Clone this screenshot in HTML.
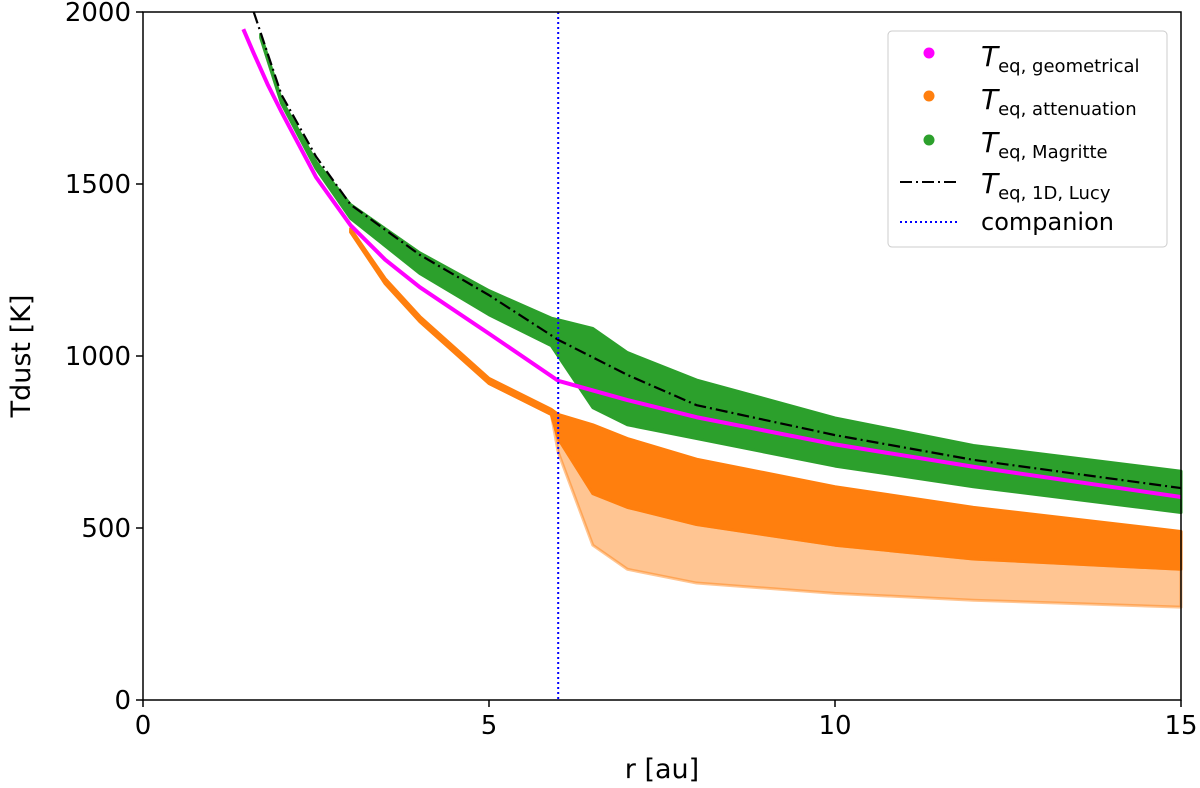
<!DOCTYPE html>
<html><head><meta charset="utf-8"><style>
body{margin:0;background:#fff;width:1200px;height:788px;overflow:hidden}
svg{display:block;font-family:"DejaVu Sans","Liberation Sans",sans-serif}
</style></head><body>
<svg id="chart" width="1200" height="788">
<g id="marks"></g>
<g id="axes"></g>
<text x="662" y="778" text-anchor="middle" font-size="27">r [au]</text>
<text transform="translate(30,356) rotate(-90)" text-anchor="middle" font-size="27">Tdust [K]</text>
<g>
<rect x="888" y="31" width="279" height="216" rx="4" fill="#fff" fill-opacity="0.85" stroke="#ccc"/>
<circle cx="929" cy="53" r="5.5" fill="#ff00ff"/>
<text x="981" y="66" font-size="28" font-style="italic">T<tspan font-size="18" font-style="normal" dy="6">eq, geometrical</tspan></text>
<circle cx="929" cy="96" r="5.5" fill="#ff7f0e"/>
<text x="981" y="109" font-size="28" font-style="italic">T<tspan font-size="18" font-style="normal" dy="6">eq, attenuation</tspan></text>
<circle cx="929" cy="140" r="5.5" fill="#2ca02c"/>
<text x="981" y="152" font-size="28" font-style="italic">T<tspan font-size="18" font-style="normal" dy="6">eq, Magritte</tspan></text>
<line x1="900" x2="957" y1="182" y2="182" stroke="#000" stroke-width="2" stroke-dasharray="12 4 2 4"/>
<text x="981" y="193" font-size="28" font-style="italic">T<tspan font-size="18" font-style="normal" dy="6">eq, 1D, Lucy</tspan></text>
<line x1="900" x2="957" y1="222" y2="222" stroke="#0000ff" stroke-width="2" stroke-dasharray="2 3"/>
<text x="981" y="230" font-size="24">companion</text>
</g>
</svg>
<script>
const rGeom=[1.45,1.6,1.8,2,2.5,3,3.5,4,5,6,7,8,10,12,15];
const tGeom=[1950,1880,1790,1710,1520,1380,1280,1200,1065,928,872,822,743,678,590];
const rLucy=[1.6,2,2.5,3,4,5,6,7,8,10,12,15];
const tLucy=[2000,1760,1580,1440,1294,1177,1047,945,857,770,698,616];
const rGreen=[1.7,2,2.5,3,4,5,5.9,6.0,6.5,7,8,10,12,15];
const tGreenHi=[1935,1745,1565,1440,1300,1190,1110,1105,1080,1010,930,820,740,665];
const tGreenLo=[1925,1735,1545,1400,1240,1120,1030,1000,850,800,760,680,620,545];
const rOrange=[3,3.5,4,5,5.9,6.0,6.5,7,8,10,12,15];
const tOrangeHi=[1370,1225,1115,935,845,830,800,760,700,620,560,490];
const tOrangeMid=[1360,1210,1100,920,830,760,600,560,510,450,410,380];
const tOrangeLo=[1360,1210,1100,920,830,720,450,380,340,310,290,270];
const xTicks=[0,5,10,15], yTicks=[0,500,1000,1500,2000];
const companionR=6;
const X0=143,X1=1181,Y0=700,Y1=12;
const x=v=>X0+(X1-X0)*v/15, y=v=>Y0-(Y0-Y1)*v/2000;
const NS="http://www.w3.org/2000/svg";
const marks=document.getElementById('marks'), axes=document.getElementById('axes');
function mk(p,tag,a){const e=document.createElementNS(NS,tag);for(const k in a)e.setAttribute(k,a[k]);p.appendChild(e);return e;}
function band(rs,hi,lo,fill,op,name){
  let d='M'+rs.map((r,i)=>x(r)+','+y(hi[i])).join('L');
  for(let i=rs.length-1;i>=0;i--)d+='L'+x(rs[i])+','+y(lo[i]);
  const e=mk(marks,'path',{d:d+'Z',fill:fill,'fill-opacity':op,stroke:fill,'stroke-width':3,'stroke-opacity':op,'stroke-linejoin':'round'});
  
  
}
function line(rs,ts,stroke,w,dash,name){
  const e=mk(marks,'path',{d:'M'+rs.map((r,i)=>x(r)+','+y(ts[i])).join('L'),fill:'none',stroke:stroke,'stroke-width':w,'stroke-dasharray':dash||'none','stroke-linejoin':'round'});
  
  
}
band(rOrange,tOrangeMid,tOrangeLo,'#ff7f0e',0.45,'orange-sparse-scatter');
band(rOrange,tOrangeHi,tOrangeMid,'#ff7f0e',1,'orange-attenuation-scatter');
band(rGreen,tGreenHi,tGreenLo,'#2ca02c',1,'green-magritte-scatter');
line(rGeom,tGeom,'#ff00ff',4,'','magenta-geometrical-series');
line(rLucy,tLucy,'#000',2.2,'12 4 2 4','lucy-1d-line');
const cl=mk(marks,'line',{x1:x(companionR),x2:x(companionR),y1:Y1,y2:Y0,stroke:'#0000ff','stroke-width':2,'stroke-dasharray':'2 3'});


const fr=mk(axes,'rect',{x:X0,y:Y1,width:X1-X0,height:Y0-Y1,fill:'none',stroke:'#000','stroke-width':1.5});


xTicks.forEach(v=>{
  mk(axes,'line',{x1:x(v),x2:x(v),y1:Y0,y2:Y0+7,stroke:'#000','stroke-width':1.5});
  const t=mk(axes,'text',{x:x(v),y:Y0+34,'text-anchor':'middle','font-size':26});t.textContent=v;
  
  
});
yTicks.forEach(v=>{
  mk(axes,'line',{x1:X0-7,x2:X0,y1:y(v),y2:y(v),stroke:'#000','stroke-width':1.5});
  const t=mk(axes,'text',{x:X0-12,y:y(v)+9,'text-anchor':'end','font-size':26});t.textContent=v;
  
  
});
</script>
</body></html>
